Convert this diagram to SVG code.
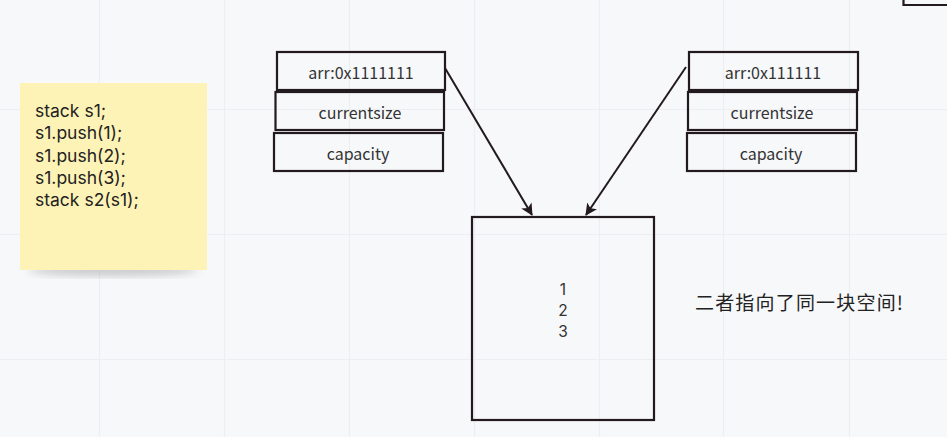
<svg xmlns="http://www.w3.org/2000/svg" width="947" height="437" viewBox="0 0 947 437">
<defs>
<style>
.bx{fill:none;stroke:#231a1f;stroke-width:2.2}
.t{font-family:"Noto Sans CJK SC","Open Sans",sans-serif;font-size:16px;fill:#333;text-anchor:middle;dominant-baseline:central}
.num{font-family:Inter,"Liberation Sans",sans-serif;font-size:15.5px;fill:#333;text-anchor:middle;dominant-baseline:central}
.code{font-family:Inter,"Liberation Sans",sans-serif;font-size:17.5px;fill:#222}
.grid{stroke:#eceef1;stroke-width:1.2}
.con{stroke:#231a1f;stroke-width:2;fill:none}
</style>
<marker id="ah" viewBox="0 0 12 12" refX="11" refY="6" markerWidth="12" markerHeight="12" markerUnits="userSpaceOnUse" orient="auto">
<path d="M0,0 L12,6 L0,12 L3,6 Z" fill="#231a1f"/>
</marker>
<filter id="sh" x="-20%" y="-20%" width="140%" height="140%">
<feGaussianBlur stdDeviation="4"/>
</filter>
</defs>
<rect width="947" height="437" fill="#f7f8fa"/>
<g id="grid">
<line class="grid" x1="99.5" y1="0" x2="99.5" y2="437"/>
<line class="grid" x1="224.5" y1="0" x2="224.5" y2="437"/>
<line class="grid" x1="349.5" y1="0" x2="349.5" y2="437"/>
<line class="grid" x1="474.5" y1="0" x2="474.5" y2="437"/>
<line class="grid" x1="599.5" y1="0" x2="599.5" y2="437"/>
<line class="grid" x1="723.5" y1="0" x2="723.5" y2="437"/>
<line class="grid" x1="849.5" y1="0" x2="849.5" y2="437"/>
<line class="grid" x1="0" y1="109.5" x2="947" y2="109.5"/>
<line class="grid" x1="0" y1="234.5" x2="947" y2="234.5"/>
<line class="grid" x1="0" y1="359.5" x2="947" y2="359.5"/>
</g>
<g id="corner">
<path d="M903.5,0 V5 H947" class="bx"/>
</g>
<g id="note">
<ellipse cx="113" cy="270" rx="85" ry="6" fill="#9a9a9a" opacity="0.5" filter="url(#sh)"/>
<rect x="20" y="83" width="187" height="187" fill="#fef3b6"/>
<text class="code" x="35" y="117">stack s1;</text>
<text class="code" x="35" y="139.3">s1.push(1);</text>
<text class="code" x="35" y="161.6">s1.push(2);</text>
<text class="code" x="35" y="183.9">s1.push(3);</text>
<text class="code" x="35" y="206.2">stack s2(s1);</text>
</g>
<g id="s1">
<rect class="bx" x="277" y="52" width="168" height="38"/>
<text class="t" x="361" y="72">arr:0x1111111</text>
<rect class="bx" x="275.5" y="92" width="168.5" height="38"/>
<text class="t" x="360" y="112">currentsize</text>
<rect class="bx" x="274" y="133" width="169" height="38"/>
<text class="t" x="358" y="153">capacity</text>
</g>
<g id="s2">
<rect class="bx" x="689" y="52" width="169" height="38"/>
<text class="t" x="773" y="72">arr:0x111111</text>
<rect class="bx" x="688" y="92" width="169" height="38"/>
<text class="t" x="772" y="112">currentsize</text>
<rect class="bx" x="687" y="133" width="169" height="38"/>
<text class="t" x="771" y="153">capacity</text>
</g>
<g id="heap">
<rect class="bx" x="472" y="217" width="182" height="203"/>
<text class="num" x="563" y="289">1</text>
<text class="num" x="563" y="310">2</text>
<text class="num" x="563" y="331">3</text>
</g>
<g id="label">
<text x="695" y="310" font-family="Noto Sans CJK SC,sans-serif" font-size="19" fill="#222" textLength="208">二者指向了同一块空间!</text>
</g>
<g id="connectors">
<line class="con" x1="445" y1="68" x2="532" y2="215" marker-end="url(#ah)"/>
<line class="con" x1="686" y1="67" x2="586" y2="215" marker-end="url(#ah)"/>
</g>
</svg>
